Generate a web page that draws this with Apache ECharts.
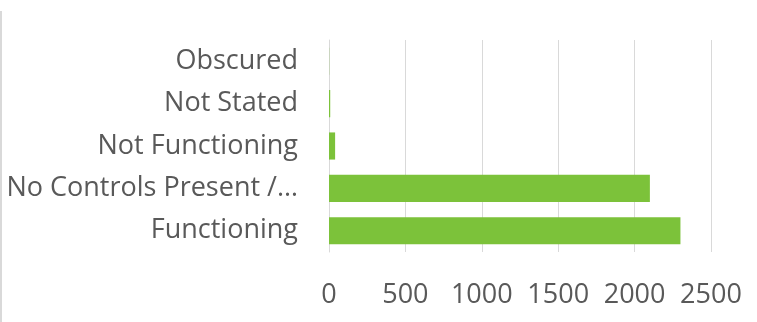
<!DOCTYPE html>
<html><head><meta charset="utf-8">
<script src="https://cdn.jsdelivr.net/npm/echarts@6/dist/echarts.min.js"></script>
<style>html,body{margin:0;padding:0;background:#fff}#c{width:757px;height:322px}</style>
</head><body><div id="c"></div>
<script>
const categories = ["Functioning", "No Controls Present /…", "Not Functioning", "Not Stated", "Obscured"];
const values = [2300, 2100, 40, 8, 1];
const xTicks = {min: 0, max: 2500, interval: 500};
const chart = echarts.init(document.getElementById('c'));
chart.setOption({
  animation: false,
  graphic: [{type: 'rect', left: 0, top: 11, shape: {width: 2, height: 311}, style: {fill: '#d9d9d9'}}],
  grid: {left: 329, right: 46, top: 40, bottom: 70},
  xAxis: {type: 'value', min: xTicks.min, max: xTicks.max, interval: xTicks.interval,
    axisLine: {show: false}, axisTick: {show: false},
    splitLine: {lineStyle: {color: '#d9d9d9', width: 1}},
    axisLabel: {color: '#595959', fontFamily: 'Open Sans', fontSize: 27, margin: 30,
      formatter: v => String(v)}},
  yAxis: {type: 'category', data: categories,
    axisLine: {lineStyle: {color: '#d9d9d9'}}, axisTick: {show: false},
    axisLabel: {color: '#595959', fontFamily: 'Open Sans', fontSize: 27, margin: 31}},
  series: [{type: 'bar', data: values, barCategoryGap: '36%', itemStyle: {color: '#7cc23a'}}]
});
</script></body></html>
